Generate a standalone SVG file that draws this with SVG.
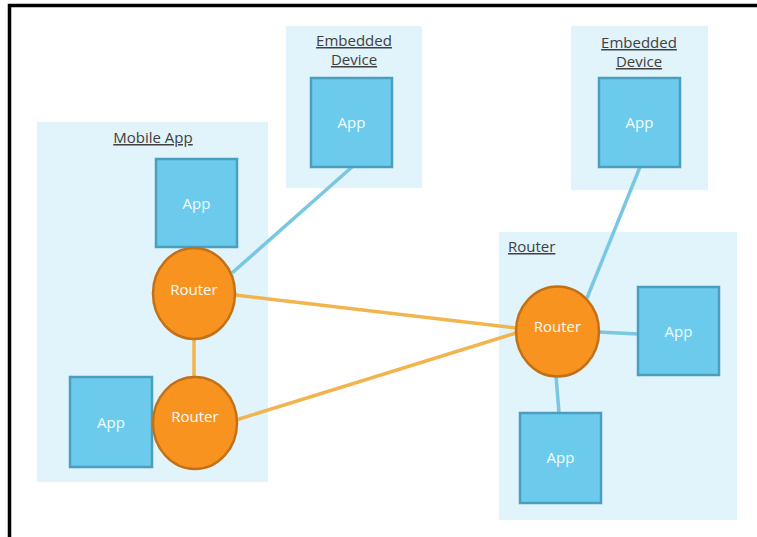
<svg xmlns="http://www.w3.org/2000/svg" width="757" height="537" viewBox="0 0 757 537">
<style>
.cont{fill:#E1F3FB}
.app{fill:#6CCBEC;stroke:#4C9EBE;stroke-width:2.5}
.rtr{fill:#F7931E;stroke:#C27119;stroke-width:2.5}
.lbl{font-family:"Open Sans","Liberation Sans",sans-serif;font-size:15px;fill:#F4FBFF;text-anchor:middle}
.ttl{font-family:"Open Sans","Liberation Sans",sans-serif;font-size:15px;fill:#404040;text-decoration:underline}
.b{stroke:#7AC7E2;stroke-width:3.5;fill:none}
.o{stroke:#F2B44E;stroke-width:3.5;fill:none}
</style>
<rect width="757" height="537" fill="#FFFFFF"/>
<path d="M9.5,537 V5.5 H757" fill="none" stroke="#000" stroke-width="3.5"/>
<g id="mobile-app">
<rect class="cont" x="37" y="122" width="231" height="360"/>
<text class="ttl" x="153" y="143" text-anchor="middle">Mobile App</text>
</g>
<g id="embedded-1">
<rect class="cont" x="286" y="26" width="136" height="162"/>
<text class="ttl" x="354" y="46" text-anchor="middle">Embedded</text>
<text class="ttl" x="354" y="65" text-anchor="middle">Device</text>
</g>
<g id="embedded-2">
<rect class="cont" x="571" y="26" width="137" height="164"/>
<text class="ttl" x="639" y="48" text-anchor="middle">Embedded</text>
<text class="ttl" x="639" y="67" text-anchor="middle">Device</text>
</g>
<g id="router-container">
<rect class="cont" x="499" y="232" width="238" height="288"/>
<text class="ttl" x="508" y="252">Router</text>
</g>
<g id="connectors">
<line class="b" x1="232" y1="273" x2="352" y2="167"/>
<line class="b" x1="587" y1="298" x2="640" y2="167"/>
<line class="b" x1="598" y1="332" x2="638" y2="334"/>
<line class="b" x1="556" y1="376" x2="559" y2="413"/>
<line class="o" x1="235" y1="295" x2="516" y2="328"/>
<line class="o" x1="236" y1="420" x2="516" y2="333"/>
<line class="o" x1="194" y1="339" x2="194" y2="377"/>
</g>
<g id="app-mobile-top">
<rect class="app" x="156" y="159" width="81" height="88"/>
<text class="lbl" x="196.5" y="209">App</text>
</g>
<g id="app-mobile-bottom">
<rect class="app" x="70" y="377" width="82" height="90"/>
<text class="lbl" x="111" y="428">App</text>
</g>
<g id="app-embedded-1">
<rect class="app" x="311" y="78" width="81" height="89"/>
<text class="lbl" x="351.5" y="128">App</text>
</g>
<g id="app-embedded-2">
<rect class="app" x="599" y="78" width="81" height="89"/>
<text class="lbl" x="639.5" y="128">App</text>
</g>
<g id="app-router-right">
<rect class="app" x="638" y="287" width="81" height="88"/>
<text class="lbl" x="678.5" y="337">App</text>
</g>
<g id="app-router-bottom">
<rect class="app" x="520" y="413" width="81" height="90"/>
<text class="lbl" x="560.5" y="463">App</text>
</g>
<g id="router-1">
<ellipse class="rtr" cx="194" cy="293.5" rx="41" ry="45.5"/>
<text class="lbl" x="194" y="295">Router</text>
</g>
<g id="router-2">
<ellipse class="rtr" cx="195" cy="423" rx="42" ry="46"/>
<text class="lbl" x="195" y="422">Router</text>
</g>
<g id="router-3">
<ellipse class="rtr" cx="557.5" cy="331.5" rx="41.5" ry="45"/>
<text class="lbl" x="557.5" y="332">Router</text>
</g>
</svg>
